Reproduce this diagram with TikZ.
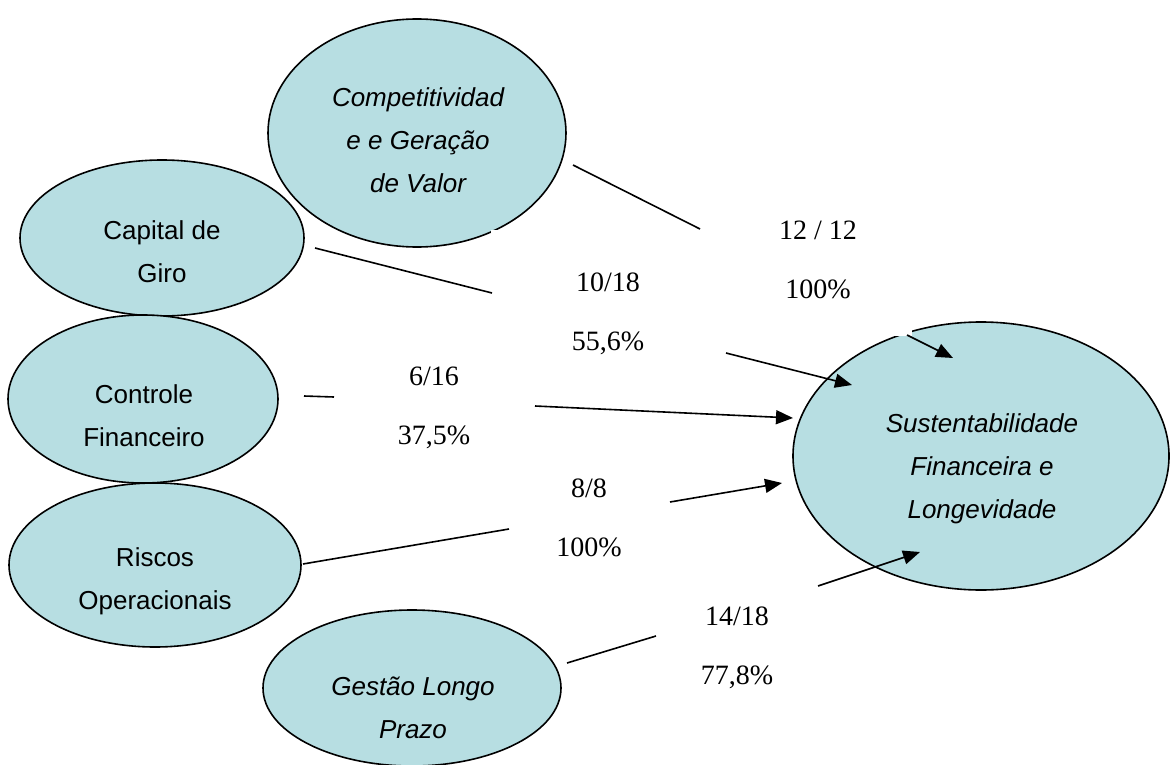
\documentclass[tikz,border=0pt]{standalone}
\usepackage{fontspec}
\newfontfamily\arialfont{Liberation Sans}
\newfontfamily\labfont{Liberation Serif}
\usetikzlibrary{shapes.geometric,arrows.meta}
\definecolor{bubblecol}{HTML}{B7DEE2}
\begin{document}
\begin{tikzpicture}[x=1pt,y=-1pt,
  bubble/.style={ellipse, draw=black, line width=1.6pt, fill=bubblecol, inner sep=0pt},
  btext/.style={align=center, inner sep=0pt, font=\arialfont\fontsize{26}{43}\selectfont},
  bital/.style={align=center, inner sep=0pt, font=\arialfont\itshape\fontsize{26}{43}\selectfont},
  labbox/.style={rectangle, fill=white, inner sep=0pt, align=center, font=\labfont\fontsize{28}{59}\selectfont},
  link/.style={line width=1.6pt},
  arr/.style={line width=1.6pt, -{Triangle[length=17pt,width=14pt]}}]
\useasboundingbox (0,0) rectangle (1170,765);
% ellipses
\node[bubble, minimum width=298pt, minimum height=228pt] (comp) at (417,133) {};
\node[bubble, minimum width=284pt, minimum height=156pt] (cap) at (162,238) {};
\node[bubble, minimum width=270pt, minimum height=168pt] (ctrl) at (143,399) {};
\node[bubble, minimum width=292pt, minimum height=164pt] (risc) at (155,565) {};
\node[bubble, minimum width=298pt, minimum height=156pt] (gest) at (412,688) {};
\node[bubble, minimum width=376pt, minimum height=268pt] (sust) at (981,456) {};
% ellipse texts
\node[bital] (comptxt) at (418,140.5) {Competitividad\\e e Geração\\de Valor};
\node[btext] (captxt) at (162,251.5) {Capital de\\Giro};
\node[btext] (ctrltxt) at (144,416) {Controle\\Financeiro};
\node[btext] (risctxt) at (155,581.5) {Riscos\\Operacionais};
\node[bital] (gesttxt) at (413,707.5) {Gestão Longo\\Prazo};
\node[bital] (susttxt) at (982,469) {Sustentabilidade\\Financeira e\\Longevidade};
% label boxes
\node[labbox, minimum width=188pt, minimum height=153pt] (b1) at (818,259.5) {12 / 12\\100\%};
\node[labbox, minimum width=234pt, minimum height=168pt] (b2) at (608,314) {10/18\\55,6\%};
\node[labbox, minimum width=202pt, minimum height=160pt] (b3) at (434,407.5) {6/16\\37,5\%};
\node[labbox, minimum width=162pt, minimum height=160pt] (b4) at (589,518) {8/8\\100\%};
\node[labbox, minimum width=162pt, minimum height=160pt] (b5) at (737,647.5) {14/18\\77,8\%};
% connectors
\draw[link] ([shift={(156,32)}]comp.center) -- ([shift={(-118,-30.5)}]b1.center);
\draw[arr] ([shift={(89,75.5)}]b1.center) -- ([shift={(-28,-98)}]sust.center);
\draw[link] ([shift={(153,10)}]cap.center) -- ([shift={(-116,-21)}]b2.center);
\draw[arr] ([shift={(118,39)}]b2.center) -- ([shift={(-129,-71)}]sust.center);
\draw[link] ([shift={(161,-3)}]ctrl.center) -- ([shift={(-100,-10.5)}]b3.center);
\draw[arr] ([shift={(101,-1.5)}]b3.center) -- ([shift={(-188,-38)}]sust.center);
\draw[link] ([shift={(148,-1)}]risc.center) -- ([shift={(-80,11)}]b4.center);
\draw[arr] ([shift={(81,-16)}]b4.center) -- ([shift={(-199,27)}]sust.center);
\draw[link] ([shift={(155,-25)}]gest.center) -- ([shift={(-81,-11.5)}]b5.center);
\draw[arr] ([shift={(81,-61.5)}]b5.center) -- ([shift={(-61,96)}]sust.center);
\end{tikzpicture}
\end{document}
